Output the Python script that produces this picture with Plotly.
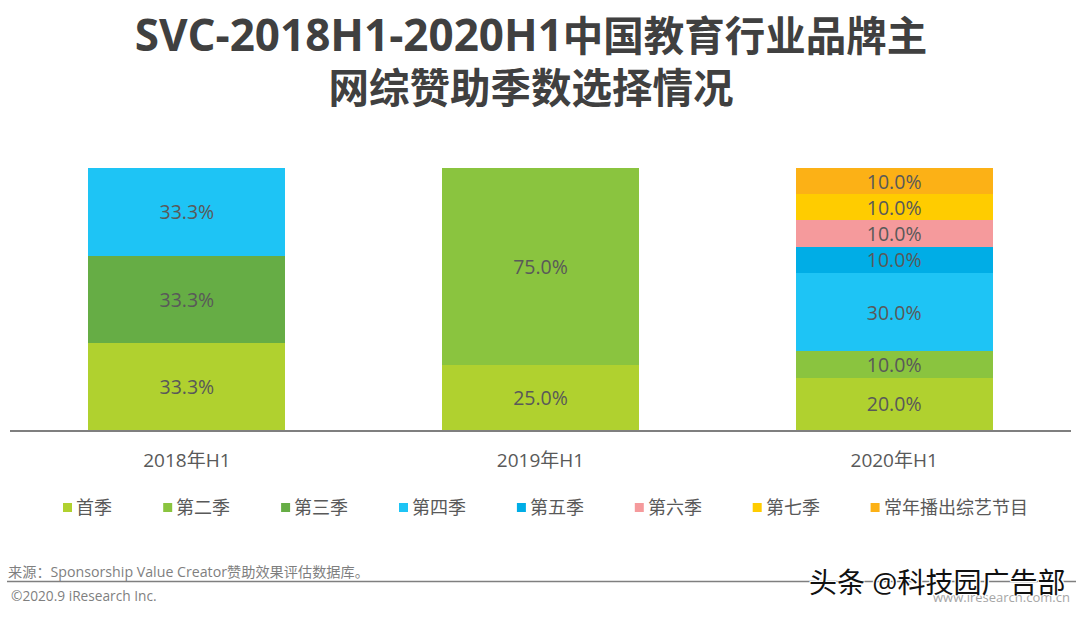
import plotly.graph_objects as go

# Values (share of seasons, %)
years = ["2018年H1", "2019年H1", "2020年H1"]
season_names = ["首季", "第二季", "第三季", "第四季", "第五季", "第六季", "第七季", "常年播出综艺节目"]
season_colors = ["#B0D12F", "#8AC43F", "#66AD45", "#1EC4F5", "#00ADE6", "#F59A9C", "#FFCC00", "#FCB116"]
shares = [
    [33.3, 25.0, 20.0],
    [None, 75.0, 10.0],
    [33.3, None, None],
    [33.3, None, 30.0],
    [None, None, 10.0],
    [None, None, 10.0],
    [None, None, 10.0],
    [None, None, 10.0],
]

title_text = '<span style="font-size:44px">SVC-2018H1-2020H1</span>中国教育行业品牌主<br>网综赞助季数选择情况'
source_text = "来源：Sponsorship Value Creator赞助效果评估数据库。"
copyright_text = "©2020.9 iResearch Inc."
site_text = "www.iresearch.com.cn"
watermark_text = "头条 @科技园广告部"

FONT = "Open Sans, Noto Sans CJK SC, sans-serif"
TEXT_GREY = "#595959"
WIDTH, HEIGHT = 1080, 617
MARGIN = dict(l=10, r=9, t=168, b=187)


# paper coordinates run over the plot area, so convert from page pixels
def px_x(x):
    return (x - MARGIN["l"]) / (WIDTH - MARGIN["l"] - MARGIN["r"])


def px_y(y):
    return (HEIGHT - MARGIN["b"] - y) / (HEIGHT - MARGIN["t"] - MARGIN["b"])


fig = go.Figure()

for name, color, values in zip(season_names, season_colors, shares):
    fig.add_trace(go.Bar(
        x=years,
        y=values,
        name=name,
        width=0.557,
        marker=dict(color=color, line=dict(width=0)),
        text=[None if v is None else f"{v:.1f}%" for v in values],
        textposition="inside",
        insidetextanchor="middle",
        textangle=0,
        constraintext="none",
        textfont=dict(family=FONT, size=19.5, color=TEXT_GREY),
        showlegend=False,
    ))

# Legend row, laid out by hand so swatch size and spacing follow the original
annotations = []
shapes = []
legend_x = 63
for name, color in zip(season_names, season_colors):
    shapes.append(dict(
        type="rect", xref="paper", yref="paper",
        x0=px_x(legend_x), x1=px_x(legend_x + 9),
        y0=px_y(512), y1=px_y(503),
        fillcolor=color, line=dict(width=0),
    ))
    annotations.append(dict(
        text=name, xref="paper", yref="paper",
        x=px_x(legend_x + 11), y=px_y(507),
        xanchor="left", yanchor="middle", showarrow=False,
        font=dict(family=FONT, size=18, color=TEXT_GREY),
    ))
    legend_x += 17.7 * len(name) + 64.8

# Footer
shapes.append(dict(
    type="line", xref="paper", yref="paper",
    x0=px_x(7), x1=px_x(1076), y0=px_y(581.5), y1=px_y(581.5),
    line=dict(color="#7F7F7F", width=1.5),
))
footer = [
    (source_text, 6, 571, "left", 14.2, "#7F7F7F"),
    (copyright_text, 9, 595, "left", 13.7, "#7F7F7F"),
    (site_text, 1072, 597, "right", 13, "#A6A6A6"),
]
for text, x, y, anchor, size, color in footer:
    annotations.append(dict(
        text=text, xref="paper", yref="paper",
        x=px_x(x), y=px_y(y), xanchor=anchor, yanchor="middle", showarrow=False,
        font=dict(family=FONT, size=size, color=color),
    ))

annotations.append(dict(
    text=watermark_text, xref="paper", yref="paper",
    x=px_x(1067), y=px_y(582), xanchor="right", yanchor="middle", showarrow=False,
    font=dict(
        family=FONT, size=28, color="#111111",
        shadow="-1px -1px 0 #fff, 1px -1px 0 #fff, -1px 1px 0 #fff, 1px 1px 0 #fff",
    ),
))

fig.update_layout(
    width=WIDTH,
    height=HEIGHT,
    barmode="stack",
    paper_bgcolor="#FFFFFF",
    plot_bgcolor="#FFFFFF",
    margin=dict(**MARGIN, autoexpand=False),
    font=dict(family=FONT, color=TEXT_GREY),
    title=dict(
        text=title_text,
        x=531 / WIDTH,
        xanchor="center",
        y=1 - 50.5 / HEIGHT,
        yanchor="middle",
        font=dict(family=FONT, size=40.5, color="#404040", weight="bold"),
    ),
    xaxis=dict(
        type="category",
        range=[-0.5, 2.5],
        showline=True,
        linecolor="#7F7F7F",
        linewidth=2,
        ticks="",
        ticklabelstandoff=12,
        tickfont=dict(family=FONT, size=19, color=TEXT_GREY),
    ),
    yaxis=dict(range=[0, 100], visible=False, showgrid=False, zeroline=False),
    annotations=annotations,
    shapes=shapes,
    showlegend=False,
)

# the page's default body margin would push the figure 8px off
fig.write_html(
    "out.html",
    config={"displayModeBar": False},
    post_script="document.body.style.margin='0';",
)
